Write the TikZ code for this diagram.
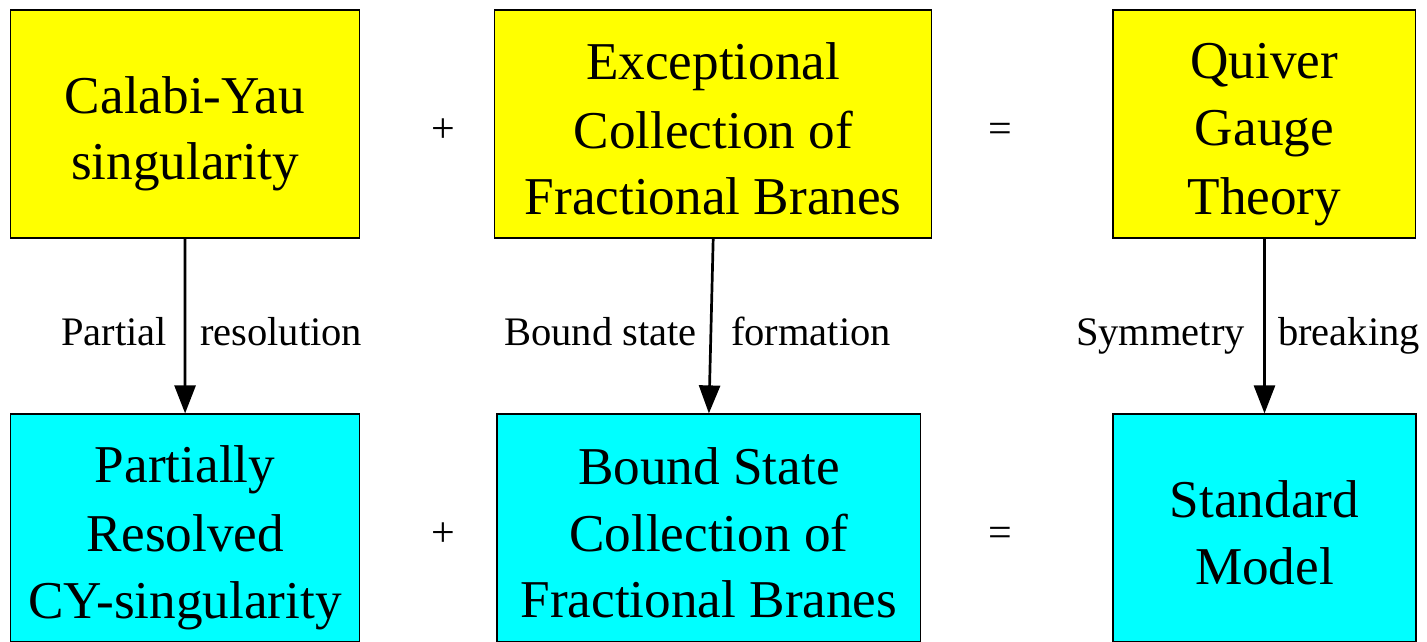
\documentclass[tikz,border=0pt]{standalone}
\usepackage{fontspec}
\setmainfont{Liberation Serif}
\usetikzlibrary{arrows.meta}
\newcommand\bs{\rule[-10.25pt]{0pt}{66.5pt}}
\definecolor{boxyellow}{HTML}{FFFF00}
\definecolor{boxcyan}{HTML}{00FFFF}
\begin{document}
\begin{tikzpicture}[x=1pt,y=-1pt,
  box/.style={draw=black,line width=1.2pt,rectangle,inner sep=0pt,minimum height=228pt,
    align=center,font=\fontsize{53.2}{66.5}\selectfont},
  topbox/.style={box,fill=boxyellow},
  botbox/.style={box,fill=boxcyan},
  arr/.style={line width=2.7pt,-{Triangle[length=28pt,width=21pt]}},
  lab/.style={inner sep=0pt,font=\fontsize{40.5}{48}\selectfont},
  op/.style={inner sep=0pt,anchor=base,font=\fontsize{42}{48}\selectfont}]
\useasboundingbox (0,0) rectangle (1427,641);
\clip (0,0) rectangle (1427,641);
\node[topbox,minimum width=348.4pt] (tl) at (184.9,124) {\bs Calabi-Yau\\\bs singularity};
\node[topbox,minimum width=437pt] (tm) at (713.2,124) {\bs Exceptional\\\bs Collection of\\\bs Fractional Branes};
\node[topbox,minimum width=302.7pt] (tr) at (1264.4,124) {\bs Quiver\\\bs Gauge\\\bs Theory};
\node[botbox,minimum width=349pt] (bl) at (185.1,528) {\bs Partially\\\bs Resolved\\\bs CY-singularity};
\node[botbox,minimum width=423.7pt] (bm) at (708.9,528) {\bs Bound State\\\bs Collection of\\\bs Fractional Branes};
\node[botbox,minimum width=303pt] (br) at (1264.5,528) {\bs Standard\\\bs Model};
\draw[arr] (tl.south) -- (bl.north);
\draw[arr] (tm.south) -- (bm.north);
\draw[arr] (tr.south) -- (br.north);
\node[lab,anchor=base east] (l1a) at (167,345) {Partial};
\node[lab,anchor=base west] (l1b) at (200,345) {resolution};
\node[lab,anchor=base east] (l2a) at (697,345) {Bound state};
\node[lab,anchor=base west] (l2b) at (731,345) {formation};
\node[lab,anchor=base east] (l3a) at (1245,345) {Symmetry};
\node[lab,anchor=base west] (l3b) at (1278,345) {breaking};
\node[op] (p1) at (443,142) {+};
\node[op] (p2) at (443,546) {+};
\node[op] (e1) at (1000,142) {=};
\node[op] (e2) at (1000,546) {=};
\end{tikzpicture}
\end{document}
